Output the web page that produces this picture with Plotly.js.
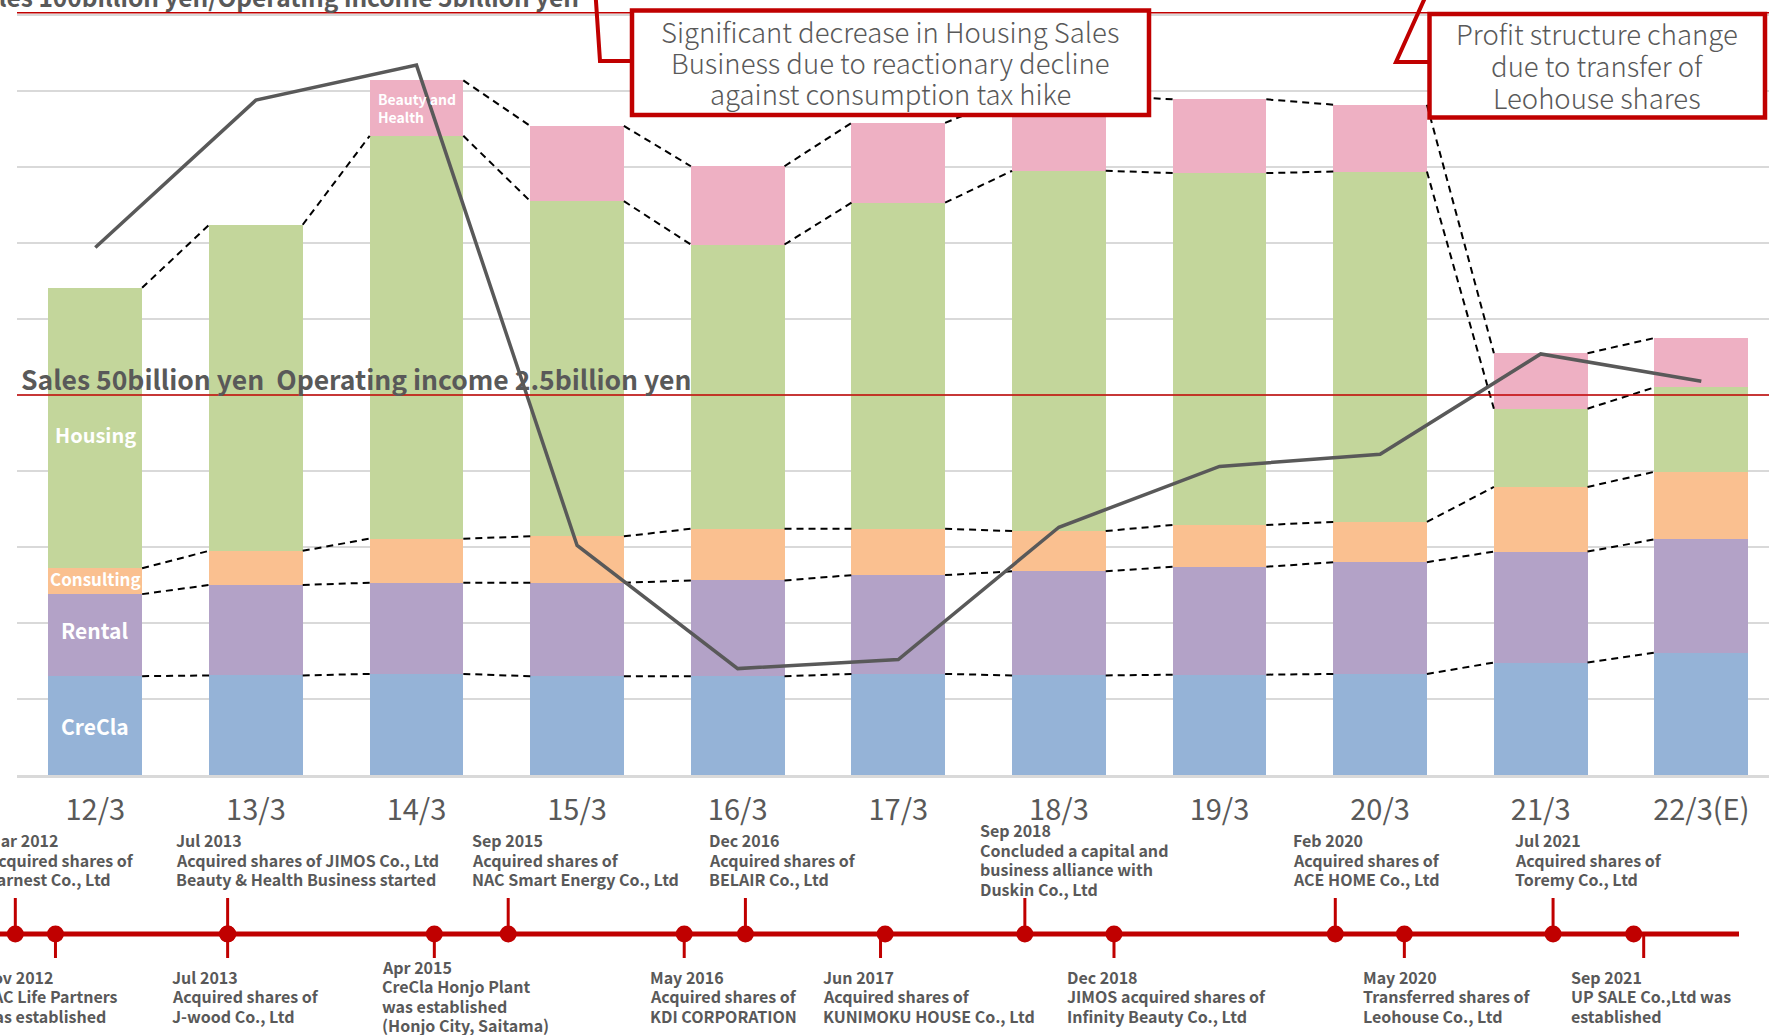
<!DOCTYPE html>
<html><head><meta charset="utf-8">
<script src="https://cdn.plot.ly/plotly-3.0.1.min.js"></script>
<style>html,body{margin:0;padding:0;background:#fff;}#chart{width:1769px;height:1035px;}</style>
</head><body><div id="chart"></div>
<script>
// ---------------- DATA ----------------
const categories = ['12/3','13/3','14/3','15/3','16/3','17/3','18/3','19/3','20/3','21/3','22/3(E)'];
// Sales by segment (billion yen)
const crecla     = [13.0,13.1,13.3,13.0,13.0,13.3,13.1,13.2,13.3,14.8,16.1];
const rental     = [10.8,11.9,12.0,12.3,12.6,13.0,13.7,14.2,14.7,14.6,14.9];
const consulting = [3.4,4.5,5.8,6.1,6.8,6.1,5.3,5.5,5.3,8.5,8.9];
const housing    = [36.9,42.9,53.0,44.1,37.4,42.9,47.4,46.3,46.1,10.3,11.1];
const beauty     = [0,0,7.3,9.9,10.3,10.5,9.9,9.7,8.8,7.3,6.5];
// Operating income (billion yen)
const operatingIncome = [3.47,4.44,4.67,1.51,0.70,0.76,1.63,2.03,2.11,2.77,2.59];
const segmentNames = ['CreCla','Rental','Consulting','Housing','Beauty and<br>Health'];

// Timeline events (position in fiscal-year units on the same scale as the bars)
const eventDates = ['Mar 2012','Nov 2012','Jul 2013','Jul 2013','Apr 2015','Sep 2015','May 2016','Dec 2016','Jun 2017','Sep 2018','Dec 2018','Feb 2020','May 2020','Jul 2021','Sep 2021'];
const eventTexts = [
  ['Acquired shares of','Earnest Co., Ltd'],
  ['NAC Life Partners','was established'],
  ['Acquired shares of JIMOS Co., Ltd','Beauty & Health Business started'],
  ['Acquired shares of','J-wood Co., Ltd'],
  ['CreCla Honjo Plant','was established','(Honjo City, Saitama)'],
  ['Acquired shares of','NAC Smart Energy Co., Ltd'],
  ['Acquired shares of','KDI CORPORATION'],
  ['Acquired shares of','BELAIR Co., Ltd'],
  ['Acquired shares of','KUNIMOKU HOUSE Co., Ltd'],
  ['Concluded a capital and','business alliance with','Duskin Co., Ltd'],
  ['JIMOS acquired shares of','Infinity Beauty Co., Ltd'],
  ['Acquired shares of','ACE HOME Co., Ltd'],
  ['Transferred shares of','Leohouse Co., Ltd'],
  ['Acquired shares of','Toremy Co., Ltd'],
  ['UP SALE Co.,Ltd was','established']
];
const eventSides = ['up','down','up','down','down','up','down','up','down','up','down','up','down','up','down'];
const eventPos = [-0.498,-0.248,0.824,0.824,2.111,2.571,3.667,4.048,4.918,5.788,6.343,7.721,8.151,9.077,9.579];

// ---------------- LAYOUT HELPERS ----------------
const W = 1769, H = 1035;
const PXU = 160.6;            // px per category
const C0 = 95.3;              // px of first category center
const BASE = 775, YPX = 7.6;  // baseline px, px per billion yen
const TL = 934;               // timeline px
const RED = '#C00000', GREY = '#595959';
const FONT = '"Noto Sans CJK JP", "Noto Sans", sans-serif';
const px = p => p / W;
const py = p => (H - p) / H;
const barW = 0.583;

const textShift = [-30,-76,-54,-58,-54,-38,-36,-38,-64,-47,-49,-44,-43,-40,-65];
const stemShift = [0,0,0,0,0,0,0,0,-4.6,0,0,0,0,0,10];

const idx = categories.map((_, i) => i);
const segs = [crecla, rental, consulting, housing, beauty];
const colors = ['#95B3D7','#B3A2C7','#FAC090','#C3D69B','#EEB0C3'];

const traces = [];
segs.forEach((s, k) => {
  traces.push({type:'bar', x: idx, y: s, width: barW, marker:{color: colors[k], line:{width:0}},
    name: segmentNames[k], hoverinfo:'skip', xaxis:'x', yaxis:'y'});
});

// cumulative tops
const cum = [];
segs.forEach((s, k) => cum.push(s.map((v, i) => v + (k ? cum[k-1][i] : 0))));

// dashed connectors
segs.forEach((s, k) => {
  const xs = [], ys = [];
  for (let i = 0; i < categories.length - 1; i++) {
    if (s[i] === 0 || s[i+1] === 0) continue;
    xs.push(i + barW/2, i + 1 - barW/2, null);
    ys.push(cum[k][i], cum[k][i+1], null);
  }
  traces.push({type:'scatter', mode:'lines', x: xs, y: ys, xaxis:'x', yaxis:'y',
    line:{color:'#000', width:2, dash:'7px,5px'}, hoverinfo:'skip', showlegend:false});
});

// operating income line
traces.push({type:'scatter', mode:'lines', x: idx, y: operatingIncome, xaxis:'x', yaxis:'y2',
  line:{color:'#595959', width:3.5}, hoverinfo:'skip', showlegend:false});

// timeline
const tlLeft = (0 - C0) / PXU, tlRight = (1739 - C0) / PXU;
traces.push({type:'scatter', mode:'lines', x:[tlLeft, tlRight], y:[0,0], xaxis:'x2', yaxis:'y3',
  line:{color:RED, width:5}, hoverinfo:'skip', showlegend:false});
const sx = [], sy = [];
eventPos.forEach((p, i) => {
  const xx = p + stemShift[i] / PXU;
  sx.push(xx, xx, null);
  sy.push(0, eventSides[i] === 'up' ? 36 : -24, null);
});
traces.push({type:'scatter', mode:'lines', x: sx, y: sy, xaxis:'x2', yaxis:'y3',
  line:{color:RED, width:3}, hoverinfo:'skip', showlegend:false});
traces.push({type:'scatter', mode:'markers', x: eventPos, y: eventPos.map(() => 0), xaxis:'x2', yaxis:'y3',
  marker:{color:RED, size:17}, hoverinfo:'skip', showlegend:false, cliponaxis:false});

// ---------------- ANNOTATIONS ----------------
const ann = [];
// segment labels
const labelSizes = [21, 21, 17, 20, 14];
const labelShift = [0, 5, 3, -6, 0];
segs.forEach((s, k) => {
  const i = k === 4 ? 2 : 0;
  const mid = cum[k][i] - s[i] / 2;
  ann.push({xref:'x', yref:'y', x: i, y: mid, yshift: labelShift[k], text: segmentNames[k], showarrow:false,
    align: 'left', font:{family:FONT, size: labelSizes[k], color:'#fff', weight:'bold'}});
});
// reference texts
ann.push({xref:'paper', yref:'paper', x: px(19), y: py(378), xanchor:'left', yanchor:'middle',
  text:'Sales 50billion yen  Operating income 2.5billion yen', showarrow:false,
  font:{family:FONT, size:26.5, color:GREY, weight:'bold'}});
ann.push({xref:'paper', yref:'paper', x: px(581), y: py(-3), xanchor:'right', yanchor:'middle',
  text:'Sales 100billion yen/Operating income 5billion yen', showarrow:false,
  font:{family:FONT, size:24.5, color:GREY, weight:'bold'}});
// callout texts
const box1 = ['Significant decrease in Housing Sales','Business due to reactionary decline','against consumption tax hike'];
const box1y = [30.7, 62.3, 92.8];
box1.forEach((t, i) => ann.push({xref:'paper', yref:'paper', x: px(890.5), y: py(box1y[i]),
  xanchor:'center', yanchor:'middle', text:t, showarrow:false,
  font:{family:FONT, size:27.5, color:GREY, weight:300}}));
const box2 = ['Profit structure change','due to transfer of','Leohouse shares'];
const box2y = [33.3, 65, 96.7];
box2.forEach((t, i) => ann.push({xref:'paper', yref:'paper', x: px(1597), y: py(box2y[i]),
  xanchor:'center', yanchor:'middle', text:t, showarrow:false,
  font:{family:FONT, size:27.5, color:GREY, weight:300}}));
// timeline texts, one annotation per line (line pitch 19.5 px)
const LINE = 19.5;
eventDates.forEach((d, i) => {
  const lines = [d].concat(eventTexts[i]);
  const center = eventSides[i] === 'up' ? 74.5 : -62;
  lines.forEach((t, j) => {
    const yy = center + ((lines.length - 1) / 2 - j) * LINE;
    ann.push({xref:'x2', yref:'y3', x: eventPos[i], xshift: textShift[i], xanchor:'left',
      y: yy, yanchor:'middle', align:'left', showarrow:false, text: t,
      font:{family:FONT, size:16, color:GREY, weight:'bold'}});
  });
});

// ---------------- SHAPES ----------------
const shapes = [
  {type:'line', xref:'paper', yref:'y', x0: px(17), x1: 1, y0: 50, y1: 50, line:{color:RED, width:1.5}, layer:'above'},
  {type:'line', xref:'paper', yref:'y', x0: px(17), x1: 1, y0: 100.3, y1: 100.3, line:{color:RED, width:1.5}, layer:'above'},
  {type:'path', xref:'paper', yref:'paper', layer:'above',
    path:`M ${px(595.5)},${py(-6)} L ${px(600)},${py(61)} L ${px(632)},${py(61)}`, line:{color:RED, width:4}},
  {type:'rect', xref:'paper', yref:'paper', layer:'above', x0: px(632), x1: px(1149), y0: py(10.5), y1: py(115),
    line:{color:RED, width:4.5}, fillcolor:'#ffffff'},
  {type:'path', xref:'paper', yref:'paper', layer:'above',
    path:`M ${px(1426.7)},${py(-6)} L ${px(1396)},${py(62)} L ${px(1429.5)},${py(62)}`, line:{color:RED, width:4}},
  {type:'rect', xref:'paper', yref:'paper', layer:'above', x0: px(1429.5), x1: px(1765), y0: py(14), y1: py(117.5),
    line:{color:RED, width:4.5}, fillcolor:'#ffffff'}
];

const yTop = BASE / YPX;
const layout = {
  width: W, height: H, margin:{l:0, r:0, t:0, b:0}, paper_bgcolor:'#fff', plot_bgcolor:'rgba(0,0,0,0)',
  showlegend:false, barmode:'stack',
  xaxis:{domain:[px(17), 1], range:[(17 - C0)/PXU, (W - C0)/PXU], anchor:'y',
    tickvals: idx, ticktext: categories, ticks:'', showgrid:false, zeroline:false,
    showline:true, linecolor:'#d9d9d9', linewidth:2.5, ticklabelstandoff:8,
    tickfont:{family:FONT, size:29, color:GREY}},
  yaxis:{domain:[(H - BASE)/H, 1], range:[0, yTop], dtick:10, showgrid:true, gridcolor:'#d9d9d9', gridwidth:2,
    showticklabels:false, zeroline:false, ticks:''},
  yaxis2:{overlaying:'y', range:[0, yTop/20], visible:false},
  xaxis2:{domain:[0,1], range:[(0 - C0)/PXU, (W - C0)/PXU], anchor:'y3', visible:false},
  yaxis3:{domain:[0, 0.25], anchor:'x2', range:[-(H - TL), -(H - TL) + 0.25*H], visible:false},
  annotations: ann, shapes: shapes
};

Plotly.newPlot('chart', traces, layout, {staticPlot:true, displayModeBar:false});
</script>
</body></html>
